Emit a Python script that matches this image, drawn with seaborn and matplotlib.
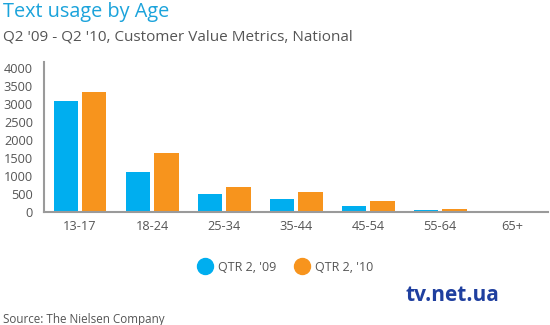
import matplotlib
matplotlib.use("Agg")
import matplotlib.pyplot as plt
from matplotlib.lines import Line2D
import seaborn as sns
import pandas as pd

categories = ["13-17", "18-24", "25-34", "35-44", "45-54", "55-64", "65+"]
q2_09 = [3090, 1100, 500, 350, 160, 45, 0]
q2_10 = [3339, 1630, 700, 550, 300, 95, 0]
series_names = ["QTR 2, '09", "QTR 2, '10"]
yticks = [0, 500, 1000, 1500, 2000, 2500, 3000, 3500, 4000]

title = "Text usage by Age"
subtitle = "Q2 '09 - Q2 '10, Customer Value Metrics, National"
source = "Source: The Nielsen Company"

BLUE = "#00AEEF"
ORANGE = "#F7941D"
GRAY_TXT = "#555555"

df = pd.DataFrame({
    "age": categories * 2,
    "value": q2_09 + q2_10,
    "series": [series_names[0]] * len(categories) + [series_names[1]] * len(categories),
})

sns.set_theme(style="white")
plt.rcParams["font.family"] = ["Open Sans", "DejaVu Sans"]

fig = plt.figure(figsize=(5.5, 3.25), dpi=100)
ax = fig.add_axes([0.08, 0.3477, 0.9164, 0.4615])

sns.barplot(data=df, x="age", y="value", hue="series", order=categories,
            hue_order=series_names, palette=[BLUE, ORANGE], width=0.8, gap=0.16,
            legend=False, ax=ax, saturation=1, edgecolor="none")

ax.set_xlim(-0.5, len(categories) - 0.5)
ax.set_ylim(0, 4170)
ax.set_yticks(yticks)
ax.set_yticklabels([str(t) for t in yticks])
ax.set_xlabel("")
ax.set_ylabel("")
ax.tick_params(axis="both", length=0, labelsize=9.2, colors=GRAY_TXT)
ax.tick_params(axis="y", pad=8)
ax.tick_params(axis="x", pad=6)
for s in ["top", "right"]:
    ax.spines[s].set_visible(False)
for s in ["left", "bottom"]:
    ax.spines[s].set_color("#9a9a9a")
    ax.spines[s].set_linewidth(1.5)

fig.text(0.006, 0.962, title, fontsize=14.3, color="#1BA3DB", va="center", ha="left")
fig.text(0.006, 0.886, subtitle, fontsize=11, color=GRAY_TXT, va="center", ha="left")
fig.text(0.006, 0.018, source, fontsize=8.4, color=GRAY_TXT, va="center", ha="left")

handles = [Line2D([], [], marker="o", linestyle="none", markersize=11.5,
                  markerfacecolor=c, markeredgecolor=c) for c in (BLUE, ORANGE)]
fig.legend(handles, series_names, loc="center", bbox_to_anchor=(0.52, 0.178),
           ncol=2, frameon=False, fontsize=9, labelcolor=GRAY_TXT,
           handletextpad=0.6, columnspacing=1.5, handlelength=1.0)

fig.text(0.738, 0.09, "tv.net.ua", fontsize=15, color="#1f3f9f", va="center",
         ha="left", fontweight="bold")

fig.savefig("out.png", dpi=100, facecolor="white")
